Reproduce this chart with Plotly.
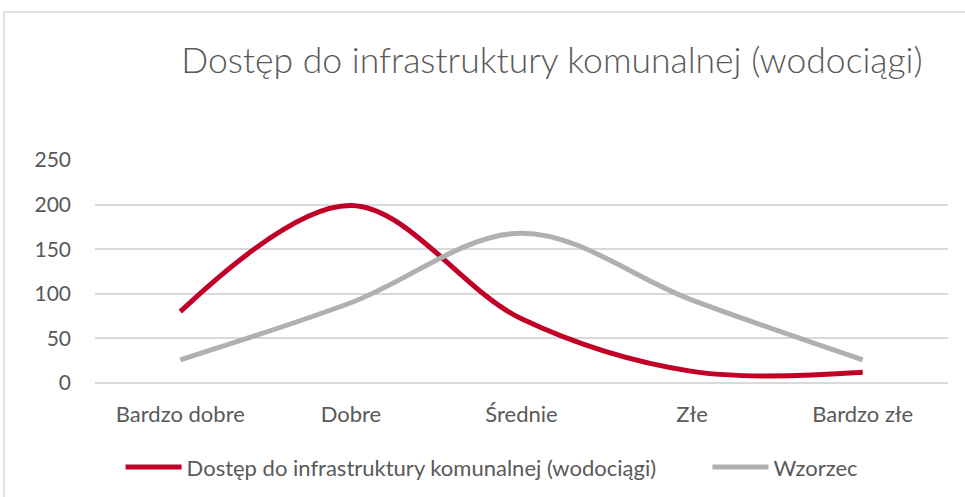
import plotly.graph_objects as go

# kategorie oceny
kategorie = ['Bardzo dobre', 'Dobre', 'Średnie', 'Złe', 'Bardzo złe']
dostep_wodociagi = [80, 199, 72, 13, 12]
wzorzec = [26, 90, 168, 93, 26]

tytul = 'Dostęp do infrastruktury komunalnej (wodociągi)'
czcionka = 'Lato, Open Sans, sans-serif'
kolor_tekstu = '#595959'
kolor_siatki = '#d9d9d9'

fig = go.Figure()
fig.add_trace(go.Scatter(
    x=kategorie, y=dostep_wodociagi, mode='lines', name=tytul, legend='legend',
    line=dict(color='#C00026', width=5, shape='spline', smoothing=1),
))
fig.add_trace(go.Scatter(
    x=kategorie, y=wzorzec, mode='lines', name='Wzorzec', legend='legend2',
    line=dict(color='#B0B0B0', width=5, shape='spline', smoothing=1),
))

leg = dict(orientation='h', yref='container', y=0.06, xanchor='left', yanchor='middle',
           itemwidth=56, font=dict(size=22, color=kolor_tekstu), bgcolor='rgba(0,0,0,0)')

fig.update_layout(
    width=965, height=497,
    margin=dict(l=95, r=17, t=160, b=114),
    paper_bgcolor='white', plot_bgcolor='white',
    font=dict(family=czcionka, size=21, color=kolor_tekstu),
    title=dict(text=tytul, font=dict(size=35.5, color=kolor_tekstu, weight=300),
               xref='container', yref='container', x=0.572, y=0.879,
               xanchor='center', yanchor='middle'),
    showlegend=True,
    legend=dict(leg, x=0.03),
    legend2=dict(leg, x=0.718),
    # ramka wykresu
    shapes=[
        dict(type='line', xref='paper', yref='paper', x0=-0.1067, x1=1.05, y0=1.664, y1=1.664,
             line=dict(color=kolor_siatki, width=1.5)),
        dict(type='line', xref='paper', yref='paper', x0=-0.1067, x1=-0.1067, y0=1.664, y1=-0.6,
             line=dict(color=kolor_siatki, width=1.5)),
    ],
)
fig.update_xaxes(showgrid=False, showline=False, zeroline=False, ticks='',
                 ticklabelstandoff=16, range=[-0.5, 4.5], tickfont=dict(size=22))
fig.update_yaxes(range=[0, 250], dtick=50, showgrid=True, gridcolor=kolor_siatki, gridwidth=1.5,
                 zeroline=True, zerolinecolor=kolor_siatki, zerolinewidth=1.5,
                 showline=False, ticks='', ticklabelstandoff=23)

fig.write_html('out.html', config={'displayModeBar': False},
               post_script="document.body.style.margin='0';")
